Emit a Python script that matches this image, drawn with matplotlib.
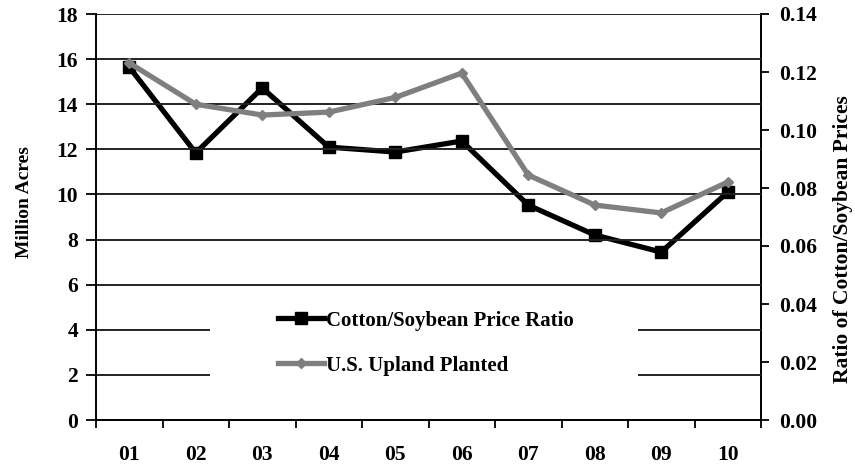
import matplotlib
matplotlib.use("Agg")
import matplotlib.pyplot as plt
from matplotlib.patches import Rectangle

years = ["01", "02", "03", "04", "05", "06", "07", "08", "09", "10"]
upland_planted = [15.83, 14.0, 13.52, 13.65, 14.3, 15.38, 10.86, 9.53, 9.18, 10.55]
price_ratio = [0.1217, 0.0921, 0.1145, 0.0941, 0.0924, 0.0962, 0.0741, 0.0638, 0.0579, 0.0786]
left_ticks = [0, 2, 4, 6, 8, 10, 12, 14, 16, 18]
right_ticks = [0.00, 0.02, 0.04, 0.06, 0.08, 0.10, 0.12, 0.14]

plt.rcParams['font.family'] = ['Liberation Serif', 'DejaVu Serif']
plt.rcParams['font.weight'] = 'bold'

fig = plt.figure(figsize=(8.55, 4.7), dpi=100)
ax = fig.add_axes([96/855, 1-420/470, (761-96)/855, 406/470])
ax2 = ax.twinx()

x = list(range(len(years)))
TICK_FS = 15.5

# price ratio on right axis (drawn underneath)
ax2.plot(x, price_ratio, color='black', lw=3.8, marker='s', ms=8.5,
         mfc='black', mec='black', label='Cotton/Soybean Price Ratio', zorder=3)
ax2.set_ylim(0, 0.14)
ax2.set_yticks(right_ticks)
ax2.set_yticklabels([f"{v:.2f}" for v in right_ticks], fontsize=TICK_FS, fontweight='bold')
ax2.set_ylabel("Ratio of Cotton/Soybean Prices", fontsize=15.5, fontweight='bold')
ax2.yaxis.set_label_coords((833 - 96) / 665, (420 - 239) / 406)

# main axis on top
ax.set_zorder(ax2.get_zorder() + 1)
ax.patch.set_visible(False)
ax.plot(x, upland_planted, color='#7f7f7f', lw=3.8, marker='D', ms=5,
        mfc='#7f7f7f', mec='#7f7f7f', label='U.S. Upland Planted', zorder=4)
ax.set_ylim(0, 18)
ax.set_yticks(left_ticks)
ax.set_yticklabels([str(v) for v in left_ticks], fontsize=TICK_FS, fontweight='bold')
ax.set_ylabel("Million Acres", fontsize=14, fontweight='bold')
ax.yaxis.set_label_coords((33 - 96) / 665, (420 - 202) / 406)
ax.set_xlim(-0.5, len(years) - 0.5)
ax.set_xticks([i - 0.5 for i in range(len(years) + 1)])
ax.set_xticklabels([])
ax.set_xticks(x, minor=True)
ax.set_xticklabels(years, minor=True, fontsize=TICK_FS, fontweight='bold')
ax.tick_params(axis='x', which='minor', length=0, pad=18)
ax.tick_params(axis='x', which='major', length=6, width=1.3, direction='out')
ax.tick_params(axis='y', length=7, width=1.3, direction='out', pad=6)
ax2.tick_params(axis='y', length=6, width=1.3, direction='out', pad=7)
ax.set_axisbelow(True)
ax.yaxis.grid(True, color='#222222', lw=1.4)
ax.xaxis.grid(False)

for a in (ax, ax2):
    a.spines['top'].set_visible(False)
    a.spines['left'].set_linewidth(1.4)
    a.spines['bottom'].set_linewidth(1.4)
    a.spines['right'].set_linewidth(1.4)
ax.spines['right'].set_visible(False)
ax2.spines['left'].set_visible(False)
ax2.spines['bottom'].set_visible(False)

# white legend background covering gridlines
ax.add_patch(Rectangle((0.171, 0.03), 0.815 - 0.171, 0.27, transform=ax.transAxes,
                       facecolor='white', edgecolor='none', zorder=2.5))

h1, l1 = ax2.get_legend_handles_labels()
h2, l2 = ax.get_legend_handles_labels()
leg = ax.legend(h1 + h2, l1 + l2, loc='upper left', bbox_to_anchor=(0.252, 0.305),
                frameon=False, prop={'family': 'Liberation Serif', 'weight': 'bold', 'size': 15},
                handlelength=2.2, handletextpad=0.1, labelspacing=1.2, borderpad=0.2)
leg.set_zorder(5)

fig.savefig("out.png", dpi=100)
